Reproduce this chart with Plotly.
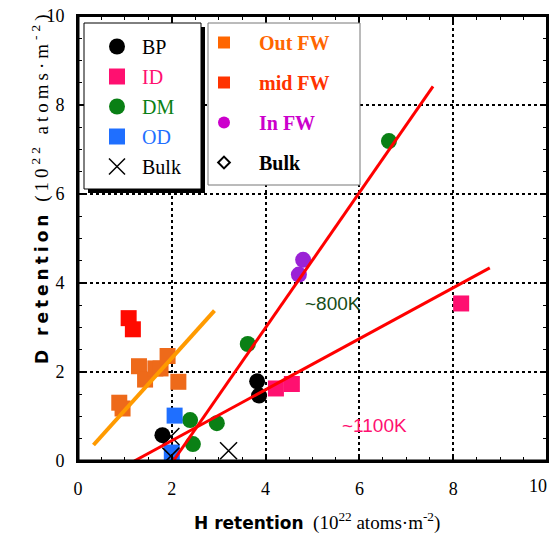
import plotly.graph_objects as go

# ---------------- data ----------------
bp_x = [1.80, 3.82, 3.86]
bp_y = [0.58, 1.79, 1.47]

id_x = [4.22, 4.56, 8.17]
id_y = [1.63, 1.73, 3.54]

dm_x = [2.39, 2.45, 2.96, 3.62, 6.63]
dm_y = [0.92, 0.38, 0.85, 2.63, 7.19]

od_x = [2.06, 2.00]
od_y = [1.02, 0.19]

bulk_x = [1.98, 1.98, 3.21]
bulk_y = [0.55, 0.11, 0.23]

outfw_x = [0.88, 0.95, 1.30, 1.43, 1.65, 1.76, 1.91, 2.14]
outfw_y = [1.31, 1.18, 2.13, 1.83, 2.08, 2.08, 2.36, 1.78]

midfw_x = [1.08, 1.17]
midfw_y = [3.21, 2.96]

infw_x = [4.80, 4.71]
infw_y = [4.52, 4.19]

bulkfw_x = [0.42]
bulkfw_y = [0.02]

fit_orange_x = [0.33, 2.91]
fit_orange_y = [0.36, 3.38]
fit_800_x = [2.03, 7.57]
fit_800_y = [0.0, 8.42]
fit_1100_x = [1.20, 8.78]
fit_1100_y = [0.0, 4.34]

x_ticks = [0, 2, 4, 6, 8, 10]
x_ticktext = ["0", "2", "4", "6", "8", ""]
x_last_label = "10"
y_ticks = [0, 2, 4, 6, 8, 10]

# ---------------- figure ----------------
L, R, T, B = 78, 547, 16, 461
W, H = 550, 535


def px(p):
    return (p - L) / (R - L)


def py(p):
    return (B - p) / (B - T)


SERIF = "Liberation Serif"
NB = "\u00a0"
fig = go.Figure()


def sc(x, y, color, symbol, size, lw=0, lc=None):
    fig.add_trace(go.Scatter(
        x=x, y=y, mode="markers", showlegend=False, hoverinfo="skip",
        marker=dict(color=color, symbol=symbol, size=size,
                    line=dict(width=lw, color=lc if lc else color))))


sc(id_x, id_y, "#FF1070", "square", 16)
sc(dm_x, dm_y, "#0A8015", "circle", 16)
sc(od_x, od_y, "#1F6FFF", "square", 16)
sc(outfw_x, outfw_y, "#EE6A1A", "square", 16)
sc(midfw_x, midfw_y, "#FF0A00", "square", 16)
sc(infw_x, infw_y, "#9B22D6", "circle", 16)
sc(bulk_x, bulk_y, "black", "x-thin", 17, 1.5, "black")
sc(bp_x, bp_y, "black", "circle", 16)
sc(bulkfw_x, bulkfw_y, "white", "diamond-open", 9, 2, "black")

for fx, fy, c, w in [(fit_orange_x, fit_orange_y, "#FF9A00", 4),
                     (fit_800_x, fit_800_y, "#FF0000", 3),
                     (fit_1100_x, fit_1100_y, "#FF0000", 3)]:
    fig.add_trace(go.Scatter(x=fx, y=fy, mode="lines", showlegend=False,
                             hoverinfo="skip", line=dict(color=c, width=w)))

# legend-only entries
leg1 = [("BP", "black", "circle", 16, 0),
        ("ID", "#FF1070", "square", 16, 0),
        ("DM", "#0A8015", "circle", 16, 0),
        ("OD", "#1F6FFF", "square", 16, 0),
        ("Bulk", "black", "x-thin", 16, 1.5)]
for i, (nm, c, s, sz, lw) in enumerate(leg1):
    fig.add_trace(go.Scatter(
        x=[None], y=[None], mode="markers", legend="legend",
        legendgroup="a%d" % i,
        name=NB + "<span style='color:%s'>%s</span>" % (c, nm),
        marker=dict(color=c, symbol=s, size=sz, line=dict(width=lw, color=c))))

leg2 = [("Out FW", "#FF6600", "square", 12, 0, "#FF6600"),
        ("mid FW", "#FF3300", "square", 12, 0, "#FF3300"),
        ("In FW", "#CC00CC", "circle", 12, 0, "#CC00CC"),
        ("Bulk", "white", "diamond-open", 9, 2, "black")]
for i, (nm, c, s, sz, lw, tc) in enumerate(leg2):
    fig.add_trace(go.Scatter(
        x=[None], y=[None], mode="markers", legend="legend2",
        legendgroup="g%d" % i,
        name=NB * 3 + "<b><span style='color:%s'>%s</span></b>" % (tc, nm),
        marker=dict(color=c if lw == 0 else "black", symbol=s, size=sz,
                    line=dict(width=lw, color="black"))))

shapes = [
    # legend boxes
    dict(type="rect", xref="paper", yref="paper", layer="above",
         x0=px(88), x1=px(205), y0=py(193), y1=py(27),
         fillcolor="black", line=dict(width=0)),
    dict(type="rect", xref="paper", yref="paper", layer="above",
         x0=px(84), x1=px(201), y0=py(189), y1=py(23),
         fillcolor="white", line=dict(width=1, color="black")),
    dict(type="rect", xref="paper", yref="paper", layer="above",
         x0=px(208), x1=px(360), y0=py(185), y1=py(23),
         fillcolor="white", line=dict(width=1, color="#777777")),
    # frame
    dict(type="line", xref="paper", yref="paper", layer="above",
         x0=0, x1=1, y0=1, y1=1, line=dict(width=2, color="black")),
    dict(type="line", xref="paper", yref="paper", layer="above",
         x0=1, x1=1, y0=0, y1=1, line=dict(width=2, color="black")),
    dict(type="line", xref="paper", yref="paper", layer="above",
         x0=0, x1=0, y0=0, y1=1, line=dict(width=3, color="black")),
    dict(type="line", xref="paper", yref="paper", layer="above",
         x0=0, x1=1, y0=0, y1=0, line=dict(width=3, color="black")),
]

annotations = [
    dict(x=5.43, y=3.54, xref="x", yref="y", text="~800K", showarrow=False,
         font=dict(family="Liberation Sans", size=19, color="#174D17")),
    dict(x=6.33, y=0.79, xref="x", yref="y", text="~1100K", showarrow=False,
         font=dict(family="Liberation Sans", size=19, color="#FF1070")),
    dict(x=x_ticks[-1], y=py(486), xref="x", yref="paper", showarrow=False,
         xanchor="right", yanchor="middle", xshift=2, text=x_last_label,
         font=dict(family=SERIF, size=18, color="black")),
    dict(x=px(317), y=py(521), xref="paper", yref="paper", showarrow=False,
         xanchor="center", yanchor="middle",
         text="<span style='font-family:DejaVu Sans;font-size:17px'><b>H retention</b></span>"
              + NB * 2 + "(10<sup>22</sup> atoms\u00b7m<sup>-2</sup>)",
         font=dict(family=SERIF, size=19, color="black")),
    dict(x=px(40), y=py(188), xref="paper", yref="paper", showarrow=False,
         xanchor="center", yanchor="middle", textangle=-90,
         text="<span style='letter-spacing:4px'><span style='font-family:DejaVu Sans;font-size:17px'><b>D retention</b></span>"
              + NB + "(10<sup>22</sup> atoms\u00b7m<sup>-2</sup>)</span>",
         font=dict(family=SERIF, size=19, color="black")),
]

axis_common = dict(
    range=[0, 10], ticks="inside", ticklen=7, tickwidth=1.5,
    tickcolor="black", showline=True, linecolor="black", linewidth=2,
    mirror="allticks", showgrid=True, gridcolor="black", gridwidth=2,
    griddash="dot", zeroline=False, ticklabeloverflow="allow",
    automargin=False,
    tickfont=dict(family=SERIF, size=18, color="black"),
    minor=dict(dtick=0.5, ticks="inside", ticklen=4, tickwidth=1.2,
               tickcolor="black", showgrid=False),
)

fig.update_layout(
    width=W, height=H,
    margin=dict(l=L, r=W - R, t=T, b=H - B),
    paper_bgcolor="white", plot_bgcolor="white",
    xaxis=dict(axis_common, tickvals=x_ticks, ticktext=x_ticktext,
               ticklabelstandoff=10),
    yaxis=dict(axis_common, tickvals=y_ticks, ticklabelstandoff=8),
    shapes=shapes, annotations=annotations,
    legend=dict(x=px(97), y=py(27), xanchor="left", yanchor="top",
                bgcolor="rgba(0,0,0,0)", borderwidth=0,
                traceorder="grouped", tracegroupgap=1,
                font=dict(family=SERIF, size=20, color="black")),
    legend2=dict(x=px(204), y=py(23), xanchor="left", yanchor="top",
                 bgcolor="rgba(0,0,0,0)", borderwidth=0,
                 traceorder="grouped", tracegroupgap=11,
                 font=dict(family=SERIF, size=20, color="black")),
)

fig.write_html("out.html", config={"displayModeBar": False})

with open("out.html", "r", encoding="utf-8") as f:
    html = f.read()
html = html.replace("<head>", "<head><style>html,body{margin:0;padding:0;overflow:hidden}</style>", 1)
with open("out.html", "w", encoding="utf-8") as f:
    f.write(html)
